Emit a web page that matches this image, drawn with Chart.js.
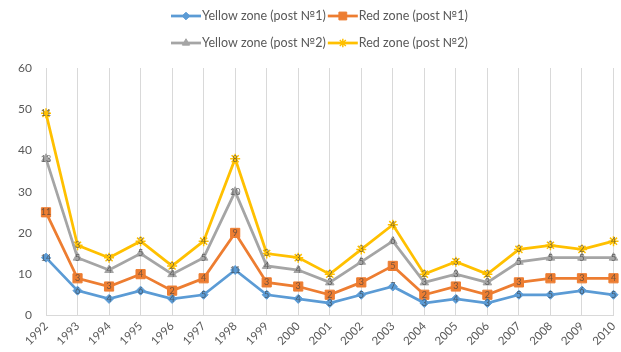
<!DOCTYPE html>
<html>
<head>
<meta charset="utf-8">
<script src="https://cdn.jsdelivr.net/npm/chart.js@4.4.0/dist/chart.umd.min.js"></script>
<style>
  html, body { margin: 0; padding: 0; background: #ffffff; }
  #wrap { width: 621px; height: 352px; }
</style>
</head>
<body>
<div id="wrap"><canvas id="chart" width="621" height="352"></canvas></div>
<script>
// Years of observation
const years = ['1992','1993','1994','1995','1996','1997','1998','1999','2000','2001',
               '2002','2003','2004','2005','2006','2007','2008','2009','2010'];

// Per-series values (the chart stacks them on top of each other)
const yellowPost1 = [14, 6, 4, 6, 4, 5, 11, 5, 4, 3, 5, 7, 3, 4, 3, 5, 5, 6, 5];
const redPost1    = [11, 3, 3, 4, 2, 4,  9, 3, 3, 2, 3, 5, 2, 3, 2, 3, 4, 3, 4];
const yellowPost2 = [13, 5, 4, 5, 4, 5, 10, 4, 4, 3, 5, 6, 3, 3, 3, 5, 5, 5, 5];
const redPost2    = [11, 3, 3, 3, 2, 4,  8, 3, 3, 2, 3, 4, 2, 3, 2, 3, 3, 2, 4];

// Value axis ticks
const yTicks = [0, 10, 20, 30, 40, 50, 60];

const FONT = 'Lato, "Open Sans", sans-serif';
const TEXT = '#595959';

const series = [
  { label: 'Yellow zone (post №1)', data: yellowPost1, color: '#5B9BD5', style: 'rectRot',  radius: 4.5 },
  { label: 'Red zone (post №1)',    data: redPost1,    color: '#ED7D31', style: 'rect',     radius: 6.5 },
  { label: 'Yellow zone (post №2)', data: yellowPost2, color: '#A5A5A5', style: 'triangle', radius: 5 },
  { label: 'Red zone (post №2)',    data: redPost2,    color: '#FFC000', style: 'star',     radius: 5 }
];

// Raw value written on each marker
const valueLabels = {
  id: 'valueLabels',
  afterDatasetsDraw(chart) {
    const ctx = chart.ctx;
    ctx.save();
    ctx.font = '9px ' + FONT;
    ctx.fillStyle = 'rgba(64,64,64,0.7)';
    ctx.textAlign = 'center';
    ctx.textBaseline = 'middle';
    chart.data.datasets.forEach((ds, i) => {
      chart.getDatasetMeta(i).data.forEach((pt, j) => {
        ctx.fillText(String(ds.data[j]), pt.x, pt.y);
      });
    });
    ctx.restore();
  }
};

// Two-row legend: line sample with marker, then the series name
const twoRowLegend = {
  id: 'twoRowLegend',
  afterDraw(chart) {
    const ctx = chart.ctx;
    const rows = [[0, 1], [2, 3]];
    const rowY = [16, 43];
    const startX = 171;
    const sample = 30;
    ctx.save();
    ctx.font = '12.5px ' + FONT;
    ctx.textBaseline = 'middle';
    ctx.textAlign = 'left';
    rows.forEach((row, r) => {
      let x = startX;
      const y = rowY[r];
      row.forEach(idx => {
        const s = series[idx];
        ctx.strokeStyle = s.color;
        ctx.fillStyle = s.color;
        ctx.lineWidth = 2.75;
        ctx.beginPath();
        ctx.moveTo(x, y);
        ctx.lineTo(x + sample, y);
        ctx.stroke();
        ctx.lineWidth = s.style === 'star' ? 1.5 : 1;
        Chart.helpers.drawPoint(ctx, { pointStyle: s.style, radius: s.radius * 0.85, rotation: 0, borderWidth: ctx.lineWidth }, x + sample / 2, y);
        ctx.fillStyle = TEXT;
        ctx.fillText(s.label, x + sample + 1, y);
        x += sample + 1 + ctx.measureText(s.label).width + 2;
      });
    });
    ctx.restore();
  }
};

new Chart(document.getElementById('chart'), {
  type: 'line',
  data: {
    labels: years,
    datasets: series.map(s => ({
      label: s.label,
      data: s.data,
      borderColor: s.color,
      backgroundColor: s.color,
      borderWidth: 2.75,
      pointStyle: s.style,
      pointRadius: s.radius,
      pointBorderWidth: s.style === 'star' ? 1.5 : 1,
      pointBackgroundColor: s.color,
      pointBorderColor: s.color,
      fill: false,
      tension: 0
    }))
  },
  options: {
    responsive: false,
    animation: false,
    layout: { padding: { top: 68, right: 7, left: 0, bottom: 0 } },
    plugins: { legend: { display: false }, tooltip: { enabled: false } },
    scales: {
      x: {
        offset: false,
        grid: { color: '#D9D9D9', drawTicks: false },
        border: { color: '#D9D9D9' },
        ticks: { minRotation: 45, maxRotation: 45, color: TEXT, font: { family: FONT, size: 11.5 }, padding: 4 },
        afterFit(scale) { scale.paddingRight = 0; scale.paddingLeft = 0; }
      },
      y: {
        stacked: true,
        min: 0,
        max: 60,
        grid: { display: false },
        border: { display: false },
        ticks: { color: TEXT, font: { family: FONT, size: 12 }, padding: 6 },
        afterBuildTicks(scale) { scale.ticks = yTicks.map(v => ({ value: v })); },
        afterFit(scale) { scale.width = 46; }
      }
    }
  },
  plugins: [valueLabels, twoRowLegend]
});
</script>
</body>
</html>
